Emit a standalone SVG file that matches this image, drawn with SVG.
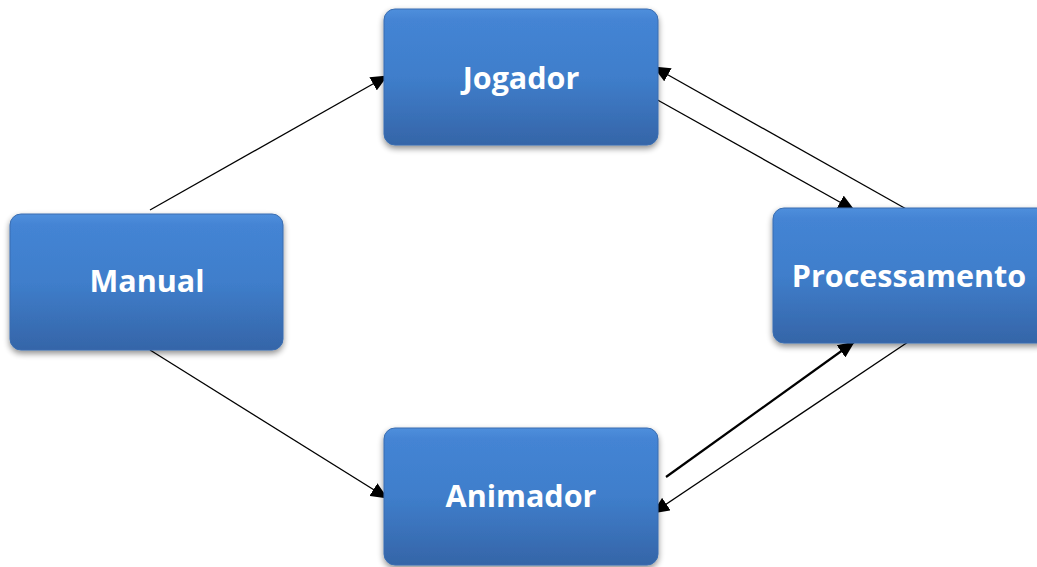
<svg xmlns="http://www.w3.org/2000/svg" width="1037" height="567" viewBox="0 0 1037 567">
  <defs>
    <linearGradient id="fill" x1="0" y1="0" x2="0" y2="1">
      <stop offset="0" stop-color="#4f8fdc"/>
      <stop offset="0.08" stop-color="#4484d4"/>
      <stop offset="0.5" stop-color="#3f7ecb"/>
      <stop offset="1" stop-color="#3565a8"/>
    </linearGradient>
    <filter id="shadow" x="-10%" y="-10%" width="120%" height="130%">
      <feGaussianBlur in="SourceAlpha" stdDeviation="3"/>
      <feOffset dx="0" dy="3" result="b"/>
      <feComponentTransfer><feFuncA type="linear" slope="0.45"/></feComponentTransfer>
      <feMerge><feMergeNode/><feMergeNode in="SourceGraphic"/></feMerge>
    </filter>
    <marker id="arrow" markerUnits="userSpaceOnUse" markerWidth="17" markerHeight="15" refX="16" refY="7.5" orient="auto">
      <path d="M0,0 L17,7.5 L0,15 Z" fill="#000"/>
    </marker>
  </defs>
  <style>
    .box { fill: url(#fill); stroke: #3a6db0; stroke-width: 1; filter: url(#shadow); }
    .label { font-family: "Open Sans", "Liberation Sans", sans-serif; font-weight: bold; font-size: 30.5px; fill: #ffffff; text-anchor: middle; }
    .conn { stroke: #000; stroke-width: 1.3; fill: none; marker-end: url(#arrow); }
  </style>
  <rect width="1037" height="567" fill="#ffffff"/>
  <g id="connectors">
    <line class="conn" x1="150" y1="210" x2="387" y2="76"/>
    <line class="conn" x1="150" y1="350" x2="387" y2="498"/>
    <line class="conn" x1="654" y1="98" x2="854" y2="210"/>
    <line class="conn" x1="908" y1="210" x2="654" y2="67"/>
    <line class="conn" x1="666" y1="477" x2="854" y2="342" style="stroke-width:2.2"/>
    <line class="conn" x1="908" y1="342" x2="653" y2="513"/>
  </g>
  <g id="jogador">
    <rect class="box" x="384" y="9" width="274" height="136" rx="11"/>
    <text class="label" x="521" y="89">Jogador</text>
  </g>
  <g id="manual">
    <rect class="box" x="10" y="214" width="273" height="136" rx="11"/>
    <text class="label" x="147" y="292">Manual</text>
  </g>
  <g id="processamento">
    <rect class="box" x="773" y="208" width="276" height="135" rx="11"/>
    <text class="label" x="909" y="287">Processamento</text>
  </g>
  <g id="animador">
    <rect class="box" x="384" y="428" width="274" height="137" rx="11"/>
    <text class="label" x="521" y="507">Animador</text>
  </g>
</svg>
